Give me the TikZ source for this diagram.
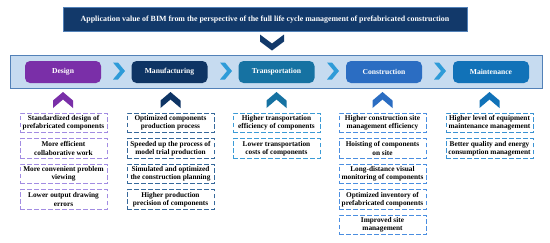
\documentclass[tikz,border=0pt]{standalone}
\usepackage{fontspec}
\setmainfont{Liberation Serif}
\begin{document}
\begin{tikzpicture}[x=1pt,y=-1pt,
  stagebox/.style={rounded corners=5pt, minimum width=76pt, minimum height=22pt, inner sep=0pt, text=white,
    font=\fontsize{7.6}{9}\selectfont\bfseries},
  itembox/.style={draw, dashed, dash pattern=on 4.5pt off 2.5pt, line width=0.9pt, minimum width=87pt, minimum height=19.5pt,
    inner sep=0pt, align=center, font=\fontsize{7.3}{8.4}\selectfont\bfseries},
  cDesign/.style={fill=cDe}, cManu/.style={fill=cMa}, cTrans/.style={fill=cTr}, cCons/.style={fill=cCo}, cMaint/.style={fill=cMt}]
\definecolor{cDe}{HTML}{7A2FA8}
\definecolor{cMa}{HTML}{0E3464}
\definecolor{cTr}{HTML}{1672A2}
\definecolor{cCo}{HTML}{2B6DC2}
\definecolor{cMt}{HTML}{1172B8}
\definecolor{dDe}{HTML}{A28CE2}
\definecolor{dMa}{HTML}{36689A}
\definecolor{dTr}{HTML}{3B9BD6}
\definecolor{dCo}{HTML}{4A8EE0}
\definecolor{dMt}{HTML}{3A92D2}
\definecolor{bandfill}{HTML}{C6DBF0}
\definecolor{bandline}{HTML}{5281B8}
\definecolor{titlefill}{HTML}{12396A}
\definecolor{arrowblue}{HTML}{2E9BD8}
\useasboundingbox (0,0) rectangle (550,242);
\fill[white] (0,0) rectangle (550,242);
% title
\node[fill=titlefill, draw=bandline, line width=0.6pt, minimum width=404pt, minimum height=24.5pt, inner sep=0pt, text=white,
  font=\fontsize{7.9}{9}\selectfont\bfseries] (title) at (265,19.5)
  {Application value of BIM from the perspective of the full life cycle management of prefabricated construction};
% down chevron
\fill[titlefill] (260,34.5) -- (272,43.5) -- (284,34.5) -- (284,41.5) -- (272,50.5) -- (260,41.5) -- cycle;
% band
\node[fill=bandfill, draw=bandline, line width=0.8pt, minimum width=532pt, minimum height=33pt, inner sep=0pt] (band) at (276.5,71.5) {};
% stage boxes
\node[stagebox, cDesign] (s1) at (63,72) {Design};
\node[stagebox, cManu] (s2) at (169.5,72) {Manufacturing};
\node[stagebox, cTrans] (s3) at (276.5,72) {Transportation};
\node[stagebox, cCons] (s4) at (384,72) {Construction};
\node[stagebox, cMaint] (s5) at (491,72) {Maintenance};
% right chevrons
\foreach \cx in {119, 226, 333, 440}{
  \fill[arrowblue] (\cx-6,62.5) -- (\cx-1,62.5) -- (\cx+6,71) -- (\cx-1,79.5) -- (\cx-6,79.5) -- (\cx+1,71) -- cycle;
}
% up chevrons
\foreach \cx/\col in {63/cDe, 170.5/cMa, 276.5/cTr, 382.5/cCo, 489.5/cMt}{
  \fill[\col] (\cx,92) -- (\cx+10,100.5) -- (\cx+10,108) -- (\cx,99.5) -- (\cx-10,108) -- (\cx-10,100.5) -- cycle;
}
% Design
\node[itembox, draw=dDe] (d1) at (63.5,123) {Standardized design of\\prefabricated components};
\node[itembox, draw=dDe] (d2) at (63.5,148.5) {More efficient\\collaborative work};
\node[itembox, draw=dDe] (d3) at (63.5,174) {More convenient problem\\viewing};
\node[itembox, draw=dDe] (d4) at (63.5,199.5) {Lower output drawing\\errors};
% Manufacturing
\node[itembox, draw=dMa] (m1) at (170.5,123) {Optimized components\\production process};
\node[itembox, draw=dMa] (m2) at (170.5,148.5) {Speeded up the process of\\model trial production};
\node[itembox, draw=dMa] (m3) at (170.5,174) {Simulated and optimized\\the construction planning};
\node[itembox, draw=dMa] (m4) at (170.5,199.5) {Higher production\\precision of components};
% Transportation
\node[itembox, draw=dTr] (t1) at (276.5,123) {Higher transportation\\efficiency of components};
\node[itembox, draw=dTr] (t2) at (276.5,148.5) {Lower transportation\\costs of components};
% Construction
\node[itembox, draw=dCo] (c1) at (382.5,123) {Higher construction site\\management efficiency};
\node[itembox, draw=dCo] (c2) at (382.5,148.5) {Hoisting of components\\on site};
\node[itembox, draw=dCo] (c3) at (382.5,174) {Long-distance visual\\monitoring of components};
\node[itembox, draw=dCo] (c4) at (382.5,199.5) {Optimized inventory of\\prefabricated components};
\node[itembox, draw=dCo] (c5) at (382.5,225) {Improved site\\management};
% Maintenance
\node[itembox, draw=dMt] (n1) at (489.5,123) {Higher level of equipment\\maintenance management};
\node[itembox, draw=dMt] (n2) at (489.5,148.5) {Better quality and energy\\consumption management};
\end{tikzpicture}
\end{document}
